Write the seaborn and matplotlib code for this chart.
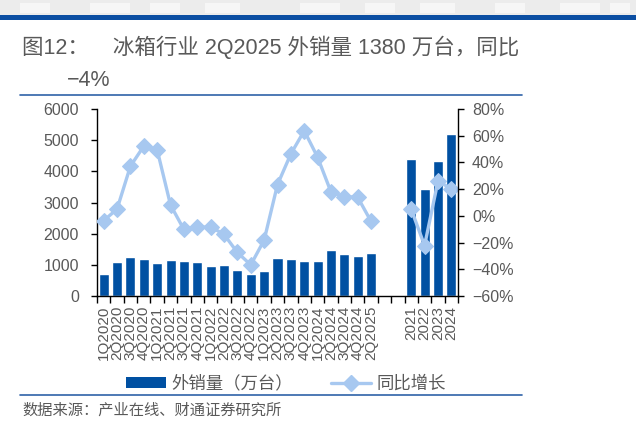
import matplotlib
matplotlib.use("Agg")
import matplotlib.pyplot as plt
from matplotlib.patches import Rectangle
from matplotlib.lines import Line2D
from matplotlib.ticker import FixedLocator, FuncFormatter
import numpy as np
import pandas as pd
import seaborn as sns

# quarterly export volume (10k units) and yoy growth (%)
quarters = ["1Q2020", "2Q2020", "3Q2020", "4Q2020",
            "1Q2021", "2Q2021", "3Q2021", "4Q2021",
            "1Q2022", "2Q2022", "3Q2022", "4Q2022",
            "1Q2023", "2Q2023", "3Q2023", "4Q2023",
            "1Q2024", "2Q2024", "3Q2024", "4Q2024",
            "2Q2025"]
q_volume = [708, 1084, 1256, 1191, 1052, 1170, 1138, 1095, 966, 998, 837, 698,
            794, 1234, 1191, 1138, 1138, 1460, 1363, 1288, 1380]
q_yoy = [-3.6, 5.1, 37.2, 52.2, 49.4, 8.1, -10.2, -8.7, -8.2, -13.9, -27.4, -36.7,
         -18.2, 23.4, 46.4, 63.7, 43.9, 17.9, 14.4, 13.9, -4.2]

# annual figures
years = ["2021", "2022", "2023", "2024"]
y_volume = [4410, 3445, 4326, 5206]
y_yoy = [4.9, -22.2, 25.9, 20.4]

gap_labels = [" ", "  "]  # two empty slots between quarterly and annual bars

BAR_COLOR = "#0050A2"
LINE_COLOR = "#A7C8F0"
TEXT_COLOR = "#595959"

sns.set_style("ticks")
plt.rcParams["font.family"] = ["Liberation Sans", "Noto Sans CJK SC", "DejaVu Sans"]
plt.rcParams["axes.unicode_minus"] = True

labels = quarters + gap_labels + years
df = pd.DataFrame({
    "label": labels,
    "volume": q_volume + [np.nan, np.nan] + y_volume,
})

fig = plt.figure(figsize=(6.36, 4.30), dpi=100)
ax = fig.add_axes([97 / 636, 1 - 296 / 430, (458 - 97) / 636, (296 - 109) / 430])

sns.barplot(data=df, x="label", y="volume", order=labels, color=BAR_COLOR,
            saturation=1, width=0.75, ax=ax)

ax2 = ax.twinx()
qdf = pd.DataFrame({"pos": np.arange(len(quarters)), "yoy": q_yoy})
ydf = pd.DataFrame({"pos": np.arange(len(years)) + len(quarters) + len(gap_labels),
                    "yoy": y_yoy})
for part in (qdf, ydf):
    sns.lineplot(data=part, x="pos", y="yoy", ax=ax2, color=LINE_COLOR,
                 linewidth=2.4, marker="D", markersize=8.5,
                 markeredgecolor=LINE_COLOR, legend=False)

ax.set_xlim(-0.5, len(labels) - 0.5)
ax.set_ylim(0, 6000)
ax.set_yticks(range(0, 6001, 1000))
ax2.set_ylim(-60, 80)
ax2.set_yticks(range(-60, 81, 20))
ax2.yaxis.set_major_formatter(FuncFormatter(lambda v, p: f"{v:.0f}%".replace("-", "\u2212")))

ax.set_xlabel("")
ax.set_ylabel("")
ax2.set_xlabel("")
ax2.set_ylabel("")

# category labels, tick marks only on slot boundaries
ax.set_xticks(range(len(labels)))
ax.set_xticklabels(labels, rotation=90, fontsize=11, color=TEXT_COLOR)
ax.tick_params(axis="x", which="major", length=0, pad=7)
ax.xaxis.set_minor_locator(FixedLocator(np.arange(-0.5, len(labels), 1.0)))
ax.tick_params(axis="x", which="minor", length=5, width=1, color="black", direction="out")

ax.tick_params(axis="y", labelsize=11.5, labelcolor=TEXT_COLOR, length=4, width=1,
               color="black", pad=9)
ax2.tick_params(axis="y", labelsize=11.5, labelcolor=TEXT_COLOR, length=4, width=1,
                color="black", pad=6)

for a in (ax, ax2):
    a.spines["top"].set_visible(False)
    for s in ("left", "right", "bottom"):
        a.spines[s].set_color("black")
        a.spines[s].set_linewidth(1)
ax.spines["right"].set_visible(False)
ax2.spines["left"].set_visible(False)
ax2.spines["bottom"].set_visible(False)

# header decoration
fig.patches.append(Rectangle((0, 1 - 15 / 430), 1, 15 / 430, transform=fig.transFigure,
                             facecolor="#ECECEC", edgecolor="none"))
for x0, w in [(20, 30), (90, 40), (150, 30), (205, 35), (300, 40), (365, 30),
              (420, 35), (495, 30), (560, 40), (610, 20)]:
    fig.patches.append(Rectangle((x0 / 636, 1 - 13 / 430), w / 636, 10 / 430,
                                 transform=fig.transFigure, facecolor="#F6F6F6",
                                 edgecolor="none"))
fig.patches.append(Rectangle((0, 1 - 20 / 430), 1, 5 / 430, transform=fig.transFigure,
                             facecolor="#0B4EA2", edgecolor="none"))
for yy in (95, 395):
    fig.add_artist(Line2D([20 / 636, 522 / 636], [1 - yy / 430, 1 - yy / 430],
                          color="#2F62A8", linewidth=1.2))

fig.text(22 / 636, 1 - 47 / 430, "图12：    冰箱行业 2Q2025 外销量 1380 万台，同比",
         fontsize=15.5, color=TEXT_COLOR, va="center", ha="left")
fig.text(67 / 636, 1 - 80 / 430, "\u22124%", fontsize=15.5, color=TEXT_COLOR,
         va="center", ha="left")

handles = [Rectangle((0, 0), 1, 1, facecolor=BAR_COLOR, edgecolor="none"),
           Line2D([0], [0], color=LINE_COLOR, linewidth=2.4, marker="D", markersize=8.5)]
fig.legend(handles, ["外销量（万台）", "同比增长"], loc="center",
           bbox_to_anchor=(286 / 636, 1 - 383 / 430), ncol=2, frameon=False,
           fontsize=12.5, labelcolor=TEXT_COLOR, handlelength=2.3, handleheight=0.6,
           handletextpad=0.3, columnspacing=2.2)

fig.text(22 / 636, 1 - 411 / 430, "数据来源：产业在线、财通证券研究所",
         fontsize=11, color=TEXT_COLOR, va="center", ha="left")

fig.savefig("out.png", dpi=100)
